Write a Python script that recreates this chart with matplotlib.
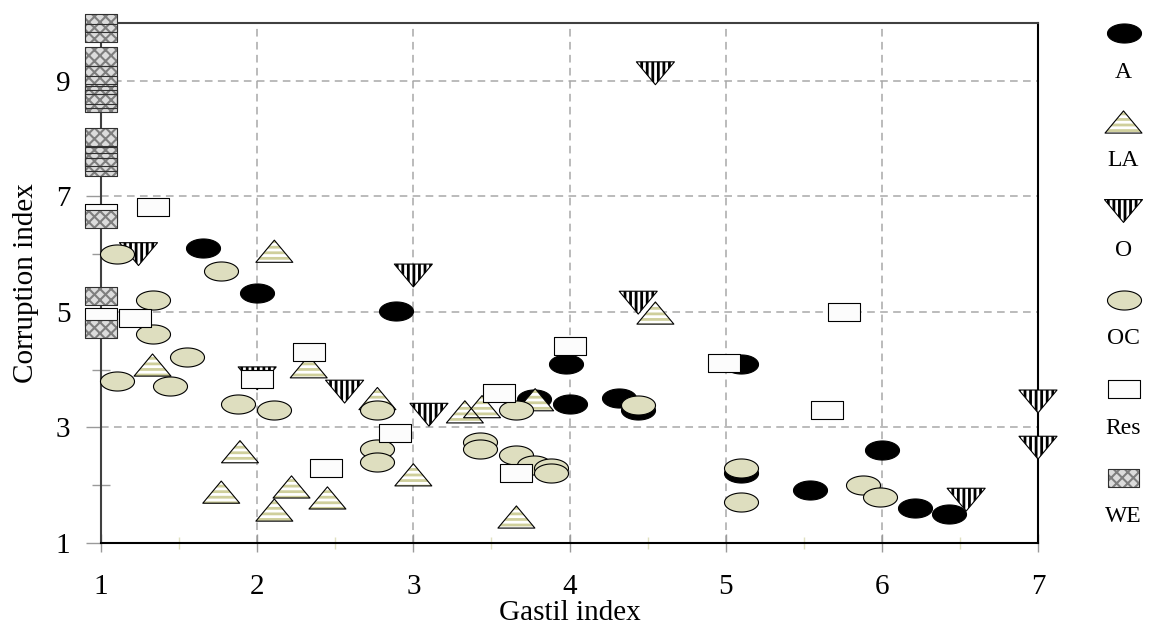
import numpy as np
import matplotlib
matplotlib.use('Agg')
import matplotlib.pyplot as plt
from matplotlib.path import Path
from matplotlib.ticker import MultipleLocator, FixedLocator

plt.rcParams['font.family'] = ['Liberation Serif', 'DejaVu Serif']

# Gastil index (x) vs corruption index (y) for each group of countries
a_x = [1.65, 2.0, 2.89, 3.98, 4.0, 3.77, 4.32, 4.44, 5.1, 5.1, 5.54, 6.0, 6.21, 6.43]
a_y = [6.1, 5.32, 5.02, 4.1, 3.41, 3.5, 3.51, 3.3, 4.1, 2.22, 1.92, 2.61, 1.61, 1.5]

la_x = [2.11, 1.33, 2.33, 1.89, 1.77, 2.22, 2.11, 2.45, 2.77, 3.0, 3.33, 3.44, 3.78, 3.66, 4.55]
la_y = [6.05, 4.08, 4.05, 2.58, 1.88, 1.97, 1.57, 1.78, 3.5, 2.18, 3.27, 3.36, 3.48, 1.45, 4.98]

o_x = [1.24, 4.55, 3.0, 2.56, 3.1, 4.44, 7.0, 7.0, 6.54, 2.0]
o_y = [6.0, 9.13, 5.63, 3.62, 3.22, 5.16, 3.45, 2.65, 1.75, 3.85]

oc_x = [1.1, 1.77, 1.33, 1.33, 1.55, 1.1, 1.44, 1.88, 2.11, 2.77, 2.77, 2.77, 3.66,
        3.43, 3.43, 3.66, 3.77, 3.88, 3.88, 4.44, 5.1, 5.1, 5.88, 5.99]
oc_y = [6.0, 5.71, 5.21, 4.62, 4.22, 3.81, 3.71, 3.41, 3.3, 3.3, 2.63, 2.4, 3.3,
        2.75, 2.62, 2.53, 2.35, 2.3, 2.21, 3.39, 2.3, 1.71, 2.0, 1.8]

res_x = [1.33, 1.22, 2.33, 2.0, 2.44, 2.88, 3.55, 4.0, 3.66, 4.99, 5.76, 5.65, 1.0, 1.0]
res_y = [6.81, 4.9, 4.31, 3.83, 2.3, 2.9, 3.6, 4.41, 2.21, 4.12, 5.0, 3.31, 6.72, 4.92]

we_y = [10.0, 9.82, 9.42, 9.1, 8.93, 8.75, 8.68, 8.61, 8.02, 7.69, 7.6, 7.51, 6.61, 5.28, 4.71]
we_x = [1.0] * len(we_y)

x_ticks = [1, 2, 3, 4, 5, 6, 7]
y_ticks = [1, 3, 5, 7, 9]

# marker shapes (wide, flattened like the original)
t = np.linspace(0, 2 * np.pi, 64)
ellipse = Path(np.column_stack([0.5 * np.cos(t), 0.28 * np.sin(t)]), closed=True)
tri_up = Path([(-0.5, -0.3), (0.5, -0.3), (0.0, 0.3), (-0.5, -0.3)], closed=True)
tri_down = Path([(-0.5, 0.3), (0.5, 0.3), (0.0, -0.3), (-0.5, 0.3)], closed=True)
rect = Path([(-0.5, -0.29), (0.5, -0.29), (0.5, 0.29), (-0.5, 0.29), (-0.5, -0.29)], closed=True)

styles = {
    'A':   dict(marker=ellipse, size=24.5, face='black', hatch=None, hcol=None, hlw=1),
    'LA':  dict(marker=tri_up, size=26.6, face='white', hatch='---', hcol='#cfcf9c', hlw=2.0),
    'O':   dict(marker=tri_down, size=27.4, face='white', hatch='|||', hcol='black', hlw=2.0),
    'OC':  dict(marker=ellipse, size=24.5, face='#dedebf', hatch=None, hcol=None, hlw=1),
    'Res': dict(marker=rect, size=22.5, face='#fcfcfc', hatch=None, hcol=None, hlw=1),
    'WE':  dict(marker=rect, size=22.5, face='#dcdcdc', hatch='xxx', hcol='#7e7e7e', hlw=1.5),
}


def draw(axis, xs, ys, st, edge='black'):
    s = st['size'] ** 2
    if st['hatch']:
        plt.rcParams['hatch.linewidth'] = st['hlw']
        c = axis.scatter(xs, ys, s=s, marker=st['marker'], facecolor=st['face'],
                         edgecolor=st['hcol'], linewidths=0, hatch=st['hatch'],
                         zorder=3, clip_on=False)
        if hasattr(c, 'set_hatch_linewidth'):
            c.set_hatch_linewidth(st['hlw'])
        axis.scatter(xs, ys, s=s, marker=st['marker'], facecolor='none',
                     edgecolor=edge, linewidths=0.8, zorder=3, clip_on=False)
    else:
        axis.scatter(xs, ys, s=s, marker=st['marker'], facecolor=st['face'],
                     edgecolor=edge, linewidths=0.8, zorder=3, clip_on=False)


fig = plt.figure(figsize=(11.57, 6.28), dpi=100)
ax = fig.add_axes([101 / 1157, 85 / 628, 937 / 1157, 520 / 628])
ax.set_xlim(1, 7)
ax.set_ylim(1, 10)

ax.xaxis.set_major_locator(FixedLocator(x_ticks))
ax.xaxis.set_minor_locator(MultipleLocator(0.5))
ax.yaxis.set_major_locator(FixedLocator(y_ticks))
ax.yaxis.set_minor_locator(MultipleLocator(1))
ax.grid(True, which='major', color='#a8a8a8', linestyle=(0, (5, 3.5)), linewidth=1.1)
ax.set_axisbelow(True)

ax.tick_params(axis='x', which='major', direction='inout', length=13, width=1,
               color='#9a9a9a', labelsize=21, pad=16)
ax.tick_params(axis='x', which='minor', direction='inout', length=9, width=1,
               color='#e0e0c0')
ax.tick_params(axis='y', which='major', direction='out', length=11, width=1,
               color='#9a9a9a', labelsize=21, pad=11)
ax.tick_params(axis='y', which='minor', direction='inout', length=13, width=1,
               color='#9a9a9a')

for side in ['left', 'top']:
    ax.spines[side].set_color('#404040')
    ax.spines[side].set_linewidth(1.5)
for side in ['right', 'bottom']:
    ax.spines[side].set_color('black')
    ax.spines[side].set_linewidth(1.5)

ax.set_xlabel('Gastil index', fontsize=21, labelpad=0)
ax.set_ylabel('Corruption index', fontsize=21, labelpad=12)

groups = [('A', a_x, a_y), ('O', o_x, o_y), ('LA', la_x, la_y),
          ('OC', oc_x, oc_y), ('Res', res_x, res_y), ('WE', we_x, we_y)]
for name, xs, ys in groups:
    draw(ax, xs, ys, styles[name], edge='#303030' if name == 'WE' else 'black')

# legend column on the right: marker above its label
lax = fig.add_axes([1090 / 1157, 0, 67 / 1157, 1])
lax.set_xlim(0, 1)
lax.set_ylim(628, 0)
lax.axis('off')
for i, name in enumerate(['A', 'LA', 'O', 'OC', 'Res', 'WE']):
    y = 33 + i * 89
    draw(lax, [0.5], [y], styles[name], edge='#303030' if name == 'WE' else 'black')
    lax.text(0.5, y + 39, name, ha='center', va='center', fontsize=17)

fig.savefig('out.png', dpi=100)
